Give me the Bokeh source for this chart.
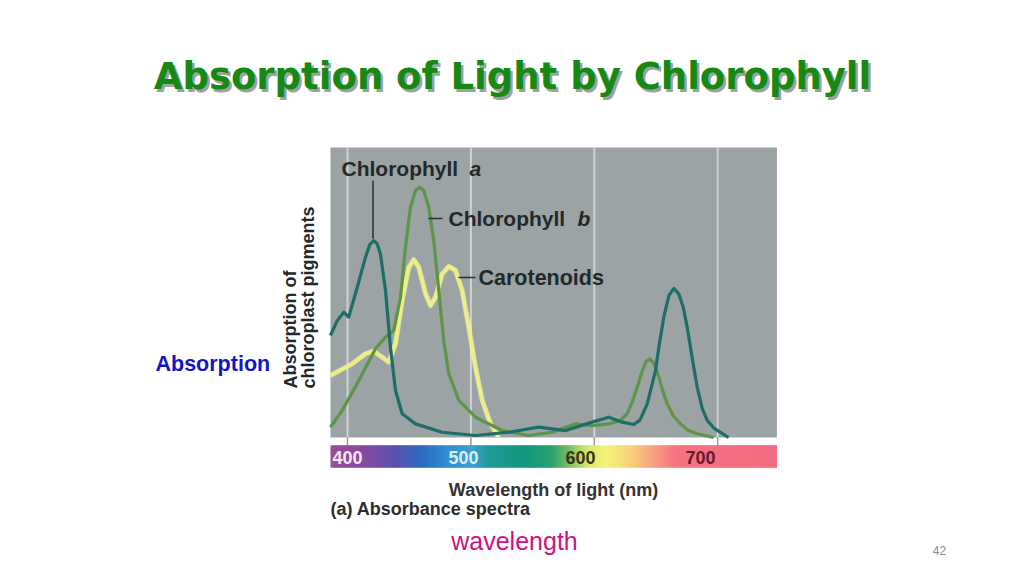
from bokeh.plotting import figure
from bokeh.models import Label
from bokeh.embed import file_html
from bokeh.resources import INLINE

# ---------------- data ----------------
chl_a_nm = [386.2, 391.7, 397.0, 401.0, 407.9, 414.6, 418.0, 421.3, 424.0, 426.7, 430.8, 434.8, 438.9,
            444.3, 455.1, 476.7, 503.7, 530.7, 555.0, 576.7, 598.3, 611.8, 622.6, 632.0, 637.0,
            642.9, 649.6, 652.3, 656.3, 660.5, 664.5, 668.5, 672.0, 675.3, 679.5, 683.4, 687.5,
            691.5, 697.0, 702.3, 708.8]
chl_a_abs = [0.352, 0.403, 0.432, 0.415, 0.518, 0.622, 0.665, 0.679, 0.668, 0.633, 0.507, 0.311, 0.162,
             0.082, 0.047, 0.018, 0.007, 0.018, 0.036, 0.024, 0.053, 0.070, 0.053, 0.045, 0.060,
             0.116, 0.231, 0.311, 0.415, 0.490, 0.514, 0.495, 0.450, 0.380, 0.270, 0.173, 0.100,
             0.059, 0.032, 0.018, 0.000]

chl_b_nm = [386.2, 395.7, 409.2, 422.7, 430.8, 437.5, 443.0, 447.0, 451.0, 455.1, 458.3, 461.8, 465.9,
            469.9, 474.0, 478.0, 482.1, 490.2, 503.7, 525.4, 546.9, 565.9, 584.8, 598.3, 611.8,
            621.2, 626.7, 630.5, 634.8, 638.5, 642.0, 645.0, 648.5, 652.3, 655.5, 659.1, 664.0,
            669.9, 676.0, 683.4, 696.6]
chl_b_abs = [0.036, 0.093, 0.197, 0.306, 0.346, 0.369, 0.484, 0.656, 0.794, 0.852, 0.863, 0.852, 0.794,
             0.679, 0.507, 0.334, 0.220, 0.128, 0.070, 0.024, 0.007, 0.018, 0.047, 0.041, 0.047,
             0.059, 0.082, 0.120, 0.173, 0.225, 0.262, 0.271, 0.255, 0.208, 0.160, 0.116, 0.075,
             0.047, 0.025, 0.013, 0.000]

car_nm = [386.2, 403.8, 414.6, 421.3, 428.1, 433.5, 438.9, 444.3, 449.7, 453.7, 457.8, 463.2, 467.3,
          471.3, 476.7, 482.1, 487.5, 492.9, 498.3, 503.7, 509.2, 515.9, 522.6]
car_abs = [0.214, 0.254, 0.289, 0.298, 0.277, 0.260, 0.323, 0.472, 0.587, 0.613, 0.587, 0.496, 0.455,
           0.484, 0.564, 0.590, 0.576, 0.507, 0.380, 0.242, 0.128, 0.047, 0.001]

tick_nm = [400, 500, 600, 700]
tick_labels = ["400", "500", "600", "700"]
tick_label_colors = ["#f4e8f4", "#d8eefa", "#3a3412", "#6a1830"]

# visible spectrum colour stops (nm, colour)
spec_nm = [386, 410, 440, 460, 480, 500, 515, 545, 565, 580, 595, 610, 630, 648, 665, 749]
spec_col = ["#9c4f98", "#8a4a9e", "#5a52b0", "#2a6cc0", "#2f8ed0", "#3aa0d0", "#1f9a96", "#13987e",
            "#2aa070", "#7cc060", "#dce870", "#f6f27a", "#f8d078", "#f8a080", "#f47482", "#f26a80"]

# ---------------- geometry ----------------
W, H = 1008, 560
ORG = 0                # page offset of the canvas
PX_PER_NM = 1.234
X400_PX = 347.0        # page x of 400 nm
BASE_PX = 437.0        # page y of zero absorbance
PX_PER_UNIT = 290.0
TICK_LABEL_LEFT_PX = [332, 448, 565, 685]


def px_x(X):
    return 400 + (X - X400_PX) / PX_PER_NM


def px_y(Y):
    return (BASE_PX - Y) / PX_PER_UNIT


p = figure(width=W, height=H, output_backend="svg", toolbar_location=None,
           x_range=(px_x(ORG), px_x(ORG + W)), y_range=(px_y(ORG + H), px_y(ORG)),
           min_border=0, background_fill_color="white", border_fill_color="white")
p.axis.visible = False
p.grid.visible = False
p.outline_line_color = None

X_LO, X_HI = 386.2, 748.0
# gray plot panel
p.quad(left=[X_LO], right=[X_HI], bottom=[0.0], top=[1.0], fill_color="#9ba3a4", line_color=None)
# vertical grid lines
p.segment(x0=tick_nm, x1=tick_nm, y0=[0.0] * 4, y1=[1.0] * 4, line_color="#cdd3d5", line_width=2)
# small ticks between panel and spectrum bar
p.segment(x0=tick_nm, x1=tick_nm, y0=[0.0] * 4, y1=[px_y(447)] * 4, line_color="#9a9a9a", line_width=1.5)


def hex2rgb(h):
    return tuple(int(h[i:i + 2], 16) for i in (1, 3, 5))


# spectrum bar as a colour gradient (overlapping slivers)
lefts, rights, cols = [], [], []
x = X_LO
step = 1.0
while x < X_HI:
    c = x + step / 2
    for i in range(len(spec_nm) - 1):
        if spec_nm[i] <= c <= spec_nm[i + 1]:
            t = (c - spec_nm[i]) / (spec_nm[i + 1] - spec_nm[i])
            a, b = hex2rgb(spec_col[i]), hex2rgb(spec_col[i + 1])
            rgb = tuple(int(round(a[k] + (b[k] - a[k]) * t)) for k in range(3))
            break
    lefts.append(x)
    rights.append(min(x + 2.5 * step, X_HI))
    cols.append("#%02x%02x%02x" % rgb)
    x += step
p.quad(left=lefts, right=rights, bottom=[px_y(467)] * len(lefts), top=[px_y(445)] * len(lefts),
       fill_color=cols, line_color=None)

# curves
p.line(car_nm, car_abs, line_color="#fbfcc8", line_width=5, line_alpha=0.6, line_join="round")
p.line(car_nm, car_abs, line_color="#eef27a", line_width=3.2, line_join="round")
p.line(chl_b_nm, chl_b_abs, line_color="#5e9448", line_width=3.2, line_join="round")
p.line(chl_a_nm, chl_a_abs, line_color="#1d6d68", line_width=3.2, line_join="round")

# leader lines
p.segment(x0=[px_x(372.5), px_x(428), px_x(458)], x1=[px_x(372.5), px_x(442), px_x(475)],
          y0=[px_y(180), px_y(218), px_y(277)], y1=[px_y(238), px_y(218), px_y(277)],
          line_color="#2a2f2f", line_width=1.5)

DARK = "#22292a"
SANS = "Liberation Sans"


def lab(text, X, Y, size, color=DARK, style="bold", align="left", font=SANS, angle=0.0, baseline="middle"):
    l = Label(x=px_x(X), y=px_y(Y), text=text, text_font=font, text_font_size=f"{size}px",
              text_font_style=style, text_color=color, text_align=align, text_baseline=baseline,
              angle=angle)
    p.add_layout(l)
    return l


lab("Chlorophyll", 341, 168, 21)
lab("a", 469, 168, 21, style="bold italic")
lab("Chlorophyll", 448, 218, 21)
lab("b", 577, 218, 21, style="bold italic")
lab("Carotenoids", 478, 277, 21.5)

# y axis title (two rotated lines)
lab("Absorption of", 290, 388, 18, angle=1.5708, baseline="middle")
lab("chloroplast pigments", 308, 388, 18, angle=1.5708, baseline="middle")

# spectrum tick labels
for left_px, t, c in zip(TICK_LABEL_LEFT_PX, tick_labels, tick_label_colors):
    lab(t, left_px, 457, 18, color=c)

lab("Wavelength of light (nm)", 553, 489, 18, align="center", color="#333333")
lab("(a) Absorbance spectra", 330, 508, 18, color="#2d2d2d")

# slide texts
TITLE = "Absorption of Light by Chlorophyll"
lab(TITLE, 514.5, 78.5, 37, color="#a0a0a0", align="center", font="DejaVu Sans", baseline="alphabetic")
lab(TITLE, 512, 76, 37, color="#148a14", align="center", font="DejaVu Sans", baseline="alphabetic")
lab("Absorption", 155, 363, 21.5, color="#1414c8")
lab("wavelength", 514, 540, 25, color="#d0127e", style="normal", align="center")
lab("42", 939, 550, 12, color="#8a8a8a", style="normal", align="center")

open("out.html", "w").write(file_html(p, INLINE))
